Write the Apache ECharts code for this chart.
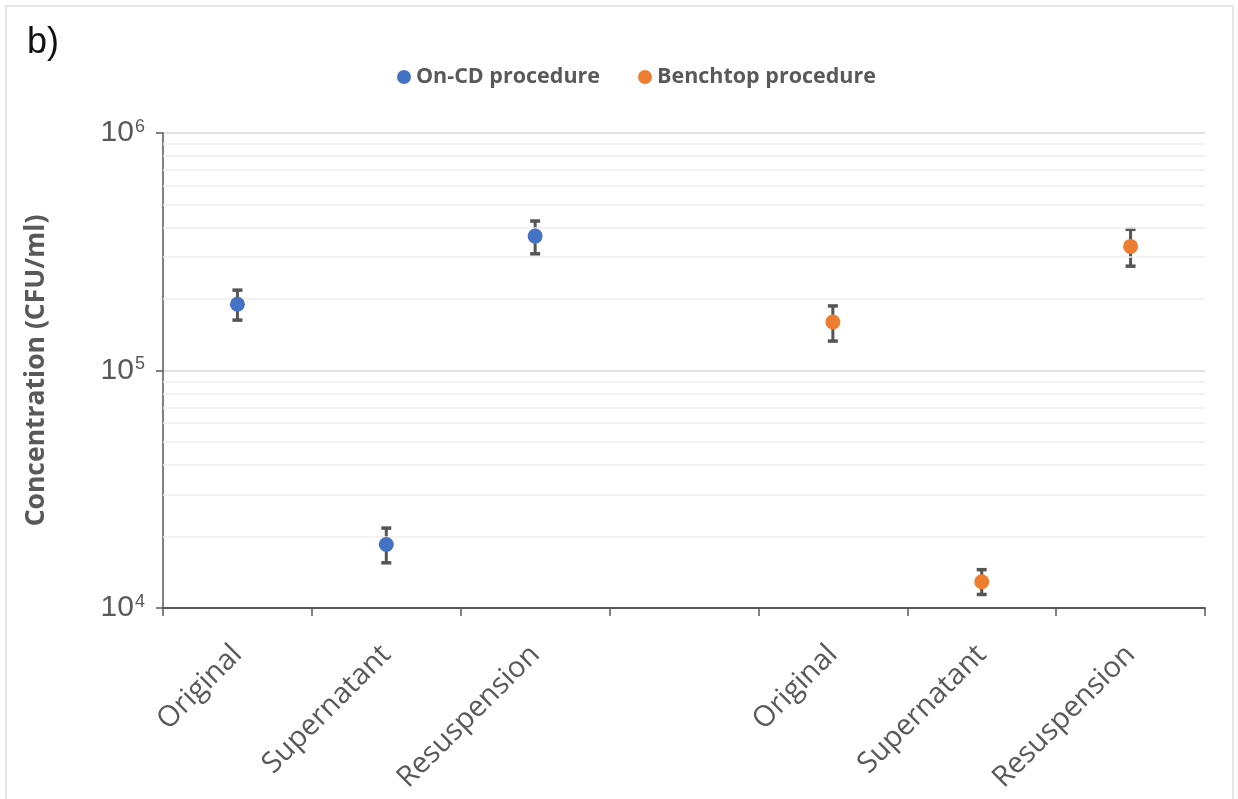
<!DOCTYPE html>
<html>
<head>
<meta charset="utf-8">
<script src="https://cdn.jsdelivr.net/npm/echarts@6/dist/echarts.min.js"></script>
<style>
html,body{margin:0;padding:0;background:#fff;}
#chart{width:1238px;height:799px;}
</style>
</head>
<body>
<div id="chart"></div>
<script>
// ---- data ----
const categories = ['Original', 'Supernatant', 'Resuspension', '', 'Original', 'Supernatant', 'Resuspension'];
const seriesNames = ['On-CD procedure', 'Benchtop procedure'];
// [category index, mean]
const onCdMeans = [[0, 190000], [1, 18500], [2, 368000]];
const benchMeans = [[4, 160000], [5, 12900], [6, 333000]];
// [category index, low, high]
const onCdErrors = [[0, 163000, 218000], [1, 15500, 21700], [2, 310000, 426000]];
const benchErrors = [[4, 133000, 187000], [5, 11400, 14500], [6, 275000, 393000]];
const minorGridValues = [20000, 30000, 40000, 50000, 60000, 70000, 80000, 90000,
  200000, 300000, 400000, 500000, 600000, 700000, 800000, 900000];
const yAxisTitle = 'Concentration (CFU/ml)';
const panelLabel = 'b)';

const gray = '#595959';
const blue = '#4472C4';
const orange = '#ED7D31';

function errorRender(params, api) {
  const x = api.value(0);
  const lo = api.coord([x, api.value(1)]);
  const hi = api.coord([x, api.value(2)]);
  const cw = 5;
  const style = { stroke: '#555555', lineWidth: 3.5 };
  return {
    type: 'group',
    children: [
      { type: 'line', shape: { x1: lo[0], y1: lo[1], x2: hi[0], y2: hi[1] }, style: { stroke: '#555555', lineWidth: 3 } },
      { type: 'line', shape: { x1: hi[0] - cw, y1: hi[1], x2: hi[0] + cw, y2: hi[1] }, style: style },
      { type: 'line', shape: { x1: lo[0] - cw, y1: lo[1], x2: lo[0] + cw, y2: lo[1] }, style: style }
    ]
  };
}

const chart = echarts.init(document.getElementById('chart'));
chart.setOption({
  animation: false,
  backgroundColor: '#fff',
  graphic: [{
    type: 'rect', silent: true, z: -10,
    shape: { x: 6, y: 6, width: 1227, height: 830 },
    style: { fill: 'none', stroke: '#e6e6e6', lineWidth: 2 }
  }],
  title: {
    text: panelLabel, left: 22, top: 20,
    textStyle: { fontFamily: 'Liberation Sans', fontSize: 36, fontWeight: 'normal', color: '#111' }
  },
  legend: {
    data: seriesNames.map(n => ({ name: n, icon: 'circle' })),
    left: 392, top: 61,
    itemWidth: 14, itemHeight: 14, itemGap: 38,
    textStyle: { fontFamily: 'Open Sans', fontWeight: 'bold', fontSize: 21.5, color: gray }
  },
  grid: { left: 163, right: 33, top: 133, bottom: 191, containLabel: false },
  xAxis: {
    type: 'category',
    data: categories,
    boundaryGap: true,
    axisLine: { show: true, lineStyle: { color: gray, width: 2 } },
    axisTick: { show: true, length: 8, lineStyle: { color: gray, width: 1.5 }, interval: 0 },
    axisLabel: { interval: 0, rotate: 45, margin: 42, fontFamily: 'Open Sans', fontSize: 29, color: gray },
    splitLine: { show: false }
  },
  yAxis: {
    type: 'log',
    logBase: 10,
    min: 10000, max: 1000000,
    name: yAxisTitle,
    nameLocation: 'middle',
    nameGap: 113,
    nameTextStyle: { fontFamily: 'Open Sans', fontWeight: 'bold', fontSize: 26.5, color: gray },
    axisLine: { show: true, lineStyle: { color: gray, width: 1.5 } },
    axisTick: { show: true, length: 7, lineStyle: { color: gray, width: 1.5 } },
    splitLine: { show: true, lineStyle: { color: '#d9d9d9', width: 1.5 } },
    axisLabel: {
      margin: 18,
      formatter: v => '{b|10}{s|' + Math.round(Math.log10(v)) + '}',
      rich: {
        b: { fontFamily: 'Liberation Sans', fontSize: 30, color: gray, lineHeight: 30 },
        s: { fontFamily: 'Liberation Sans', fontSize: 18, color: gray, lineHeight: 18, verticalAlign: 'bottom', padding: [0, 0, 12, 1] }
      }
    }
  },
  series: [
    {
      name: 'minor-grid', type: 'line', data: [], silent: true, z: 0,
      markLine: {
        silent: true, symbol: 'none', label: { show: false },
        lineStyle: { color: '#eeeeee', width: 1.5, type: 'solid' },
        data: minorGridValues.map(v => ({ yAxis: v }))
      }
    },
    { name: 'onCdErr', type: 'custom', renderItem: errorRender, data: onCdErrors, z: 3, encode: { x: 0, y: [1, 2] } },
    { name: 'benchErr', type: 'custom', renderItem: errorRender, data: benchErrors, z: 3, encode: { x: 0, y: [1, 2] } },
    { name: seriesNames[0], type: 'scatter', data: onCdMeans, symbol: 'circle', symbolSize: 15, itemStyle: { color: blue, opacity: 1 }, z: 5 },
    { name: seriesNames[1], type: 'scatter', data: benchMeans, symbol: 'circle', symbolSize: 15, itemStyle: { color: orange, opacity: 1 }, z: 5 }
  ]
});
</script>
</body>
</html>
